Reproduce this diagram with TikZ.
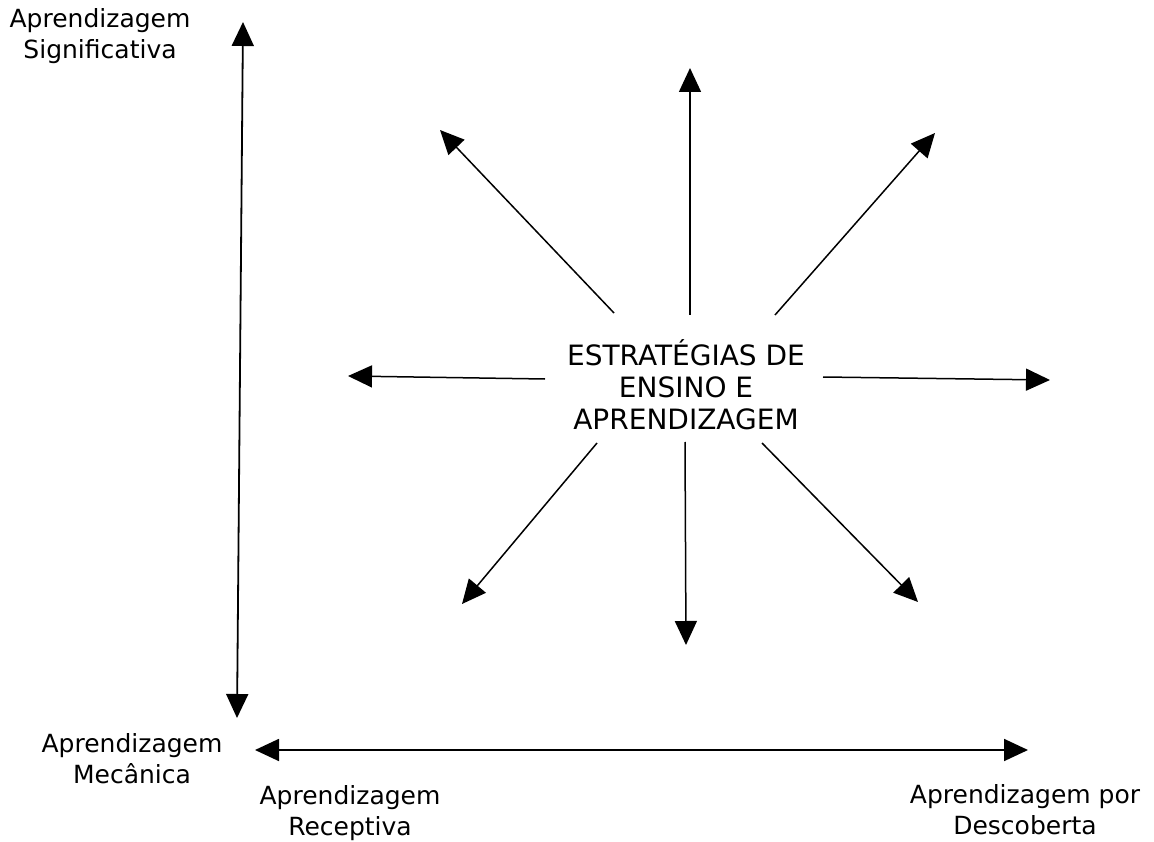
\documentclass[tikz,border=0pt]{standalone}
\usepackage{fontspec}
\setmainfont{DejaVu Sans}
\usetikzlibrary{arrows.meta}
\tikzset{>={Triangle[length=24pt,width=22pt]},
axis/.style={line width=1.8pt,->},
spoke/.style={line width=1.5pt,->},
lbl/.style={font=\fontsize{25}{31}\selectfont, align=center, inner sep=0pt},
hub/.style={font=\fontsize{28}{32}\selectfont, align=center, inner sep=0pt}}

\begin{document}
\begin{tikzpicture}[x=1pt,y=-1pt]
\useasboundingbox (0,0) rectangle (1154,842);
% Axes
\coordinate (vtop) at (243,22);
\coordinate (vbot) at (237,718);
\coordinate (vmid) at (240,370);
\coordinate (hleft) at (255,750);
\coordinate (hright) at (1028,750);
\coordinate (hmid) at (640,750);
\draw[axis] (vmid) -- (vtop);
\draw[axis] (vmid) -- (vbot);
\draw[axis] (hmid) -- (hleft);
\draw[axis] (hmid) -- (hright);
% Axis labels
\node[lbl] (signif) at (100,36) {Aprendizagem\\Significativa};
\node[lbl] (mecan) at (132,759) {Aprendizagem\\Mecânica};
\node[lbl] (recep) at (350,813) {Aprendizagem\\Receptiva};
\node[lbl] (desc) at (1025,810) {Aprendizagem por\\Descoberta};
% Centre
\node[hub] (centre) at (686,385) {ESTRATÉGIAS DE\\ENSINO E\\APRENDIZAGEM};
% Spokes
\coordinate (sN) at (690,315);   \coordinate (tN) at (690,68);
\coordinate (sNW) at (614,313);  \coordinate (tNW) at (440,130);
\coordinate (sNE) at (775,315);  \coordinate (tNE) at (935,133);
\coordinate (sW) at (545,379);   \coordinate (tW) at (348,376);
\coordinate (sE) at (823,377);   \coordinate (tE) at (1050,380);
\coordinate (sSW) at (597,443);  \coordinate (tSW) at (462,604);
\coordinate (sS) at (685,442);   \coordinate (tS) at (686,645);
\coordinate (sSE) at (762,443);  \coordinate (tSE) at (918,602);
\foreach \d in {N,NW,NE,W,E,SW,S,SE}
  \draw[spoke] (s\d) -- (t\d);
\end{tikzpicture}
\end{document}
